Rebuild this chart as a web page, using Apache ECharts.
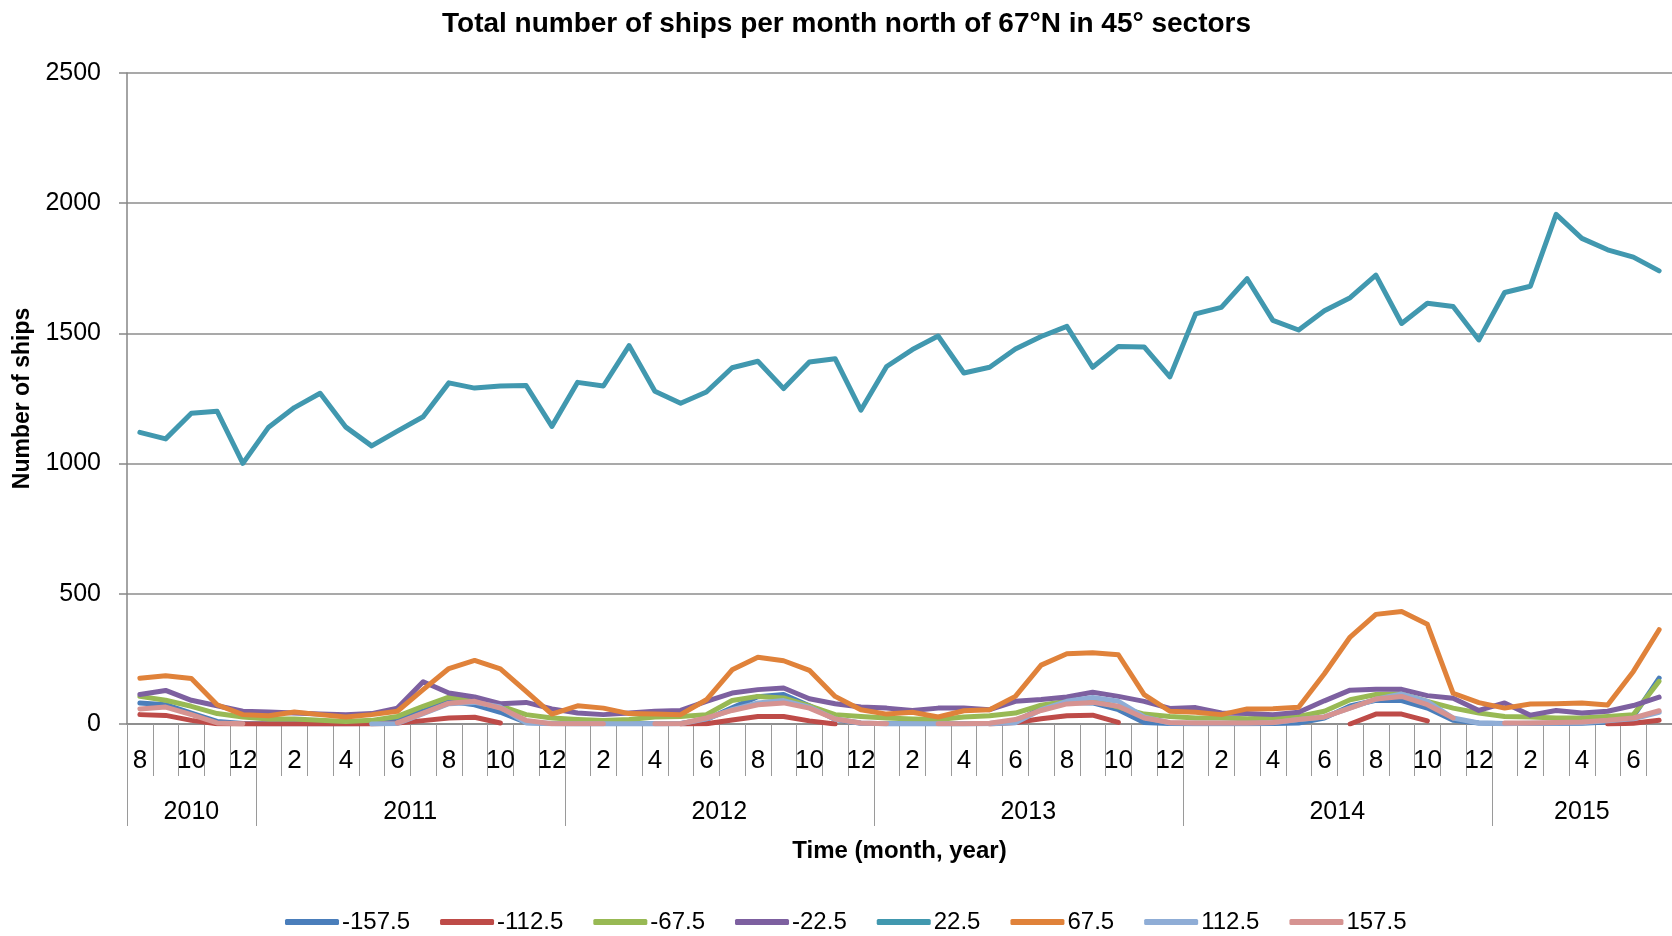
<!DOCTYPE html>
<html><head><meta charset="utf-8">
<script src="https://cdn.jsdelivr.net/npm/echarts@6/dist/echarts.min.js"></script>
<style>html,body{margin:0;padding:0;background:#fff}#c{width:1672px;height:936px}</style>
</head><body><div id="c"></div>
<script>
// Months: Aug 2010 .. Jul 2015 (60 months)
const startYear = 2010, startMonth = 8, monthCount = 60;
const categories = [];
for (let i = 0; i < monthCount; i++) {
  const m = (startMonth - 1 + i) % 12 + 1;
  const y = startYear + Math.floor((startMonth - 1 + i) / 12);
  categories.push(y + '-' + m);
}
const yearLabels = ['2010', '2011', '2012', '2013', '2014', '2015'];
const seriesNames = ['-157.5', '-112.5', '-67.5', '-22.5', '22.5', '67.5', '112.5', '157.5'];

const sM157 = [81,74,42,10,2,
  1,1,1,1,2,23,50,87,74,45,6,2,
  1,1,1,1,2,17,62,105,113,70,17,3,
  1,1,1,1,2,10,61,83,81,55,6,2,
  1,1,1,2,4,23,69,91,90,61,14,4,
  2,2,2,3,8,29,176];
const sM112 = [36,33,14,1,0,
  0,0,0,0,0,4,13,23,26,4,null,null,
  null,null,null,null,0,1,15,29,29,12,0,null,
  null,null,null,null,0,6,20,32,34,6,null,null,
  null,null,null,null,null,null,0,38,38,12,null,null,
  null,null,null,null,0,3,14];
const sM67 = [106,91,68,40,27,
  19,19,14,10,14,29,68,103,87,70,36,23,
  17,13,17,27,29,36,90,106,100,70,36,29,
  23,19,17,27,32,42,72,87,93,65,38,29,
  23,23,20,23,29,49,93,113,116,87,61,42,
  29,27,23,23,29,36,164];
const sM22 = [113,129,91,70,49,
  46,42,38,36,40,61,162,119,104,78,83,58,
  42,36,42,49,52,87,119,132,138,97,78,65,
  61,52,61,61,55,87,94,104,122,106,87,60,
  63,42,40,36,45,89,130,133,133,109,99,52,
  81,34,52,42,49,71,103];
const sP22 = [1120,1095,1193,1201,1001,
  1140,1215,1270,1140,1068,1125,1180,1310,1290,1298,1300,1143,
  1312,1298,1453,1278,1232,1275,1368,1393,1288,1390,1403,1205,
  1373,1438,1490,1348,1370,1440,1488,1527,1370,1450,1448,1333,
  1575,1600,1710,1550,1513,1587,1637,1724,1538,1616,1603,1475,
  1657,1681,1957,1865,1821,1793,1740];
const sP67 = [176,185,175,74,36,
  32,46,36,27,36,49,132,213,244,212,125,38,
  70,61,40,38,36,93,208,256,243,206,106,55,
  38,45,27,51,55,106,226,270,274,266,113,49,
  45,36,58,59,64,193,334,421,432,383,118,82,
  61,77,78,81,73,202,362];
const sP112 = [null,null,null,null,null,
  null,null,null,null,0,2,40,78,83,65,4,1,
  1,1,1,1,1,20,55,81,90,65,19,4,
  1,1,1,1,1,5,55,87,102,87,27,4,
  3,3,3,5,17,27,62,95,115,87,23,4,
  1,3,3,5,12,20,45];
const sP157 = [58,65,36,4,1,
  null,null,null,null,null,4,42,80,87,61,14,1,
  1,1,null,1,1,23,52,74,81,61,19,4,
  1,null,1,1,3,17,52,77,83,68,23,6,
  4,4,4,6,17,27,61,96,106,74,23,null,
  4,4,6,8,14,23,51];

const seriesData = [sM157, sM112, sM67, sM22, sP22, sP67, sP112, sP157];
const colors = ['#4A7EBB', '#BE4B48', '#98B954', '#7D60A0', '#4198AF', '#E0823A', '#8FADD6', '#D69391'];

// year boundaries / centers derived from categories
const yearOf = c => c.split('-')[0];
const yearBounds = [], yearCenters = [];
let first = 0;
for (let i = 1; i <= categories.length; i++) {
  if (i === categories.length || yearOf(categories[i]) !== yearOf(categories[i - 1])) {
    yearBounds.push(first);
    yearCenters.push((first + i) / 2);
    first = i;
  }
}

const FONT = '"Liberation Sans", Arial, sans-serif';
const chart = echarts.init(document.getElementById('c'), null, {renderer: 'canvas'});
chart.setOption({
  animation: false,
  backgroundColor: '#fff',
  textStyle: {fontFamily: FONT},
  title: {
    text: 'Total number of ships per month north of 67°N in 45° sectors',
    left: 437, top: 5,
    textStyle: {fontFamily: FONT, fontSize: 28, fontWeight: 'bold', color: '#000'}
  },
  legend: {
    data: seriesNames,
    left: 285, top: 910,
    icon: 'roundRect', itemWidth: 54, itemHeight: 6, itemGap: 30,
    padding: 0,
    textStyle: {fontFamily: FONT, fontSize: 24, color: '#000', padding: [0, 0, 0, -2]}
  },
  grid: {left: 127, top: 73, width: 1557, height: 651, containLabel: false},
  xAxis: [{
    type: 'category', data: categories, boundaryGap: true,
    axisLine: {lineStyle: {color: '#868686', width: 1.5}},
    axisTick: {show: true, interval: 0, length: 52, lineStyle: {color: '#9A9A9A', width: 1}},
    axisLabel: {interval: 1, margin: 24, fontSize: 26, color: '#000', fontFamily: FONT,
      formatter: v => v.split('-')[1]},
    splitLine: {show: false},
    name: 'Time (month, year)', nameLocation: 'middle', nameGap: 115,
    nameTextStyle: {fontFamily: FONT, fontSize: 24, fontWeight: 'bold', color: '#000'}
  }, {
    type: 'value', min: 0, max: categories.length, position: 'bottom',
    axisLine: {show: false},
    splitLine: {show: false},
    axisTick: {show: true, customValues: yearBounds, length: 102, lineStyle: {color: '#9A9A9A', width: 1}},
    axisLabel: {show: true, customValues: yearCenters, margin: 76, fontSize: 25, color: '#000', fontFamily: FONT,
      formatter: v => { const k = yearCenters.indexOf(v); return k >= 0 ? yearLabels[k] : ''; }}
  }],
  yAxis: {
    type: 'value', min: 0, max: 2500, interval: 500,
    axisLine: {show: true, lineStyle: {color: '#868686', width: 1.5}},
    axisTick: {show: true, length: 8, lineStyle: {color: '#868686', width: 1.5}},
    axisLabel: {fontSize: 25, margin: 26, color: '#000', fontFamily: FONT, formatter: v => String(v)},
    splitLine: {show: true, lineStyle: {color: '#8C8C8C', width: 1.5}},
    name: 'Number of ships', nameLocation: 'middle', nameGap: 86, nameRotate: 90,
    nameTextStyle: {fontFamily: FONT, fontSize: 23, fontWeight: 'bold', color: '#000'}
  },
  series: seriesNames.map((n, k) => ({
    name: n, type: 'line', data: seriesData[k], xAxisIndex: 0,
    symbol: 'none', connectNulls: false, color: colors[k],
    lineStyle: {width: 5, color: colors[k], cap: 'round', join: 'round'},
    emphasis: {disabled: true}
  }))
});
</script></body></html>
